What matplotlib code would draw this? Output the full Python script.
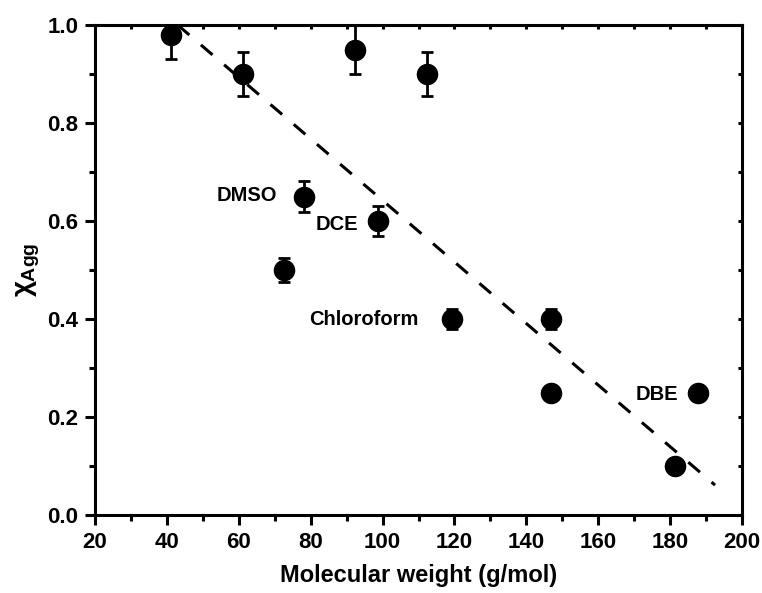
import numpy as np
import matplotlib.pyplot as plt
from matplotlib.ticker import MultipleLocator

plt.rcParams['font.family'] = ['Liberation Sans', 'DejaVu Sans']
plt.rcParams['font.weight'] = 'bold'
plt.rcParams['mathtext.fontset'] = 'custom'
plt.rcParams['mathtext.rm'] = 'Liberation Sans:bold'
plt.rcParams['mathtext.bf'] = 'Liberation Sans:bold'
plt.rcParams['mathtext.it'] = 'Liberation Sans:bold'

# solvent data: molecular weight vs aggregation fraction
mw = [41.1, 61.2, 92.3, 112.4, 78.2, 98.7, 72.6, 119.3, 146.9, 146.9, 187.8, 181.4]
chi = [0.98, 0.90, 0.95, 0.90, 0.65, 0.60, 0.50, 0.40, 0.40, 0.25, 0.25, 0.10]
err = [0.05, 0.045, 0.05, 0.045, 0.032, 0.03, 0.025, 0.02, 0.02, 0.01, 0.01, 0.01]

# linear trend line endpoints
fit_x = [43.0, 192.5]
fit_y = [1.0, 0.061]

# labelled solvents
lab_names = ['DMSO', 'DCE', 'Chloroform', 'DBE']
lab_x = [70.8, 93.3, 110.0, 182.2]
lab_y = [0.653, 0.592, 0.40, 0.245]

fig = plt.figure(figsize=(7.62, 5.93), dpi=100)
ax = fig.add_axes([0.1247, 0.1315, 0.8491, 0.8263])

ax.plot(fit_x, fit_y, color='black', lw=2.2, linestyle=(0, (5, 5)))
ax.errorbar(mw, chi, yerr=err, fmt='o', color='black', markersize=14.5,
            elinewidth=2.0, capsize=4.5, capthick=2.0)

for name, x, y in zip(lab_names, lab_x, lab_y):
    ax.text(x, y, name, fontsize=14.5, fontweight='bold', ha='right', va='center')

ax.set_xlim(20, 200)
ax.set_ylim(0, 1.0)
ax.xaxis.set_major_locator(MultipleLocator(20))
ax.xaxis.set_minor_locator(MultipleLocator(10))
ax.yaxis.set_major_locator(MultipleLocator(0.2))
ax.yaxis.set_minor_locator(MultipleLocator(0.1))
ax.yaxis.set_major_formatter(plt.FuncFormatter(lambda v, p: f'{v:.1f}'))

for s in ax.spines.values():
    s.set_linewidth(2.2)
ax.tick_params(which='major', direction='out', length=7, width=2.2, labelsize=16, pad=5)
ax.tick_params(which='minor', direction='out', length=4, width=2.2)
ax.tick_params(which='both', top=True, right=True)
for t in ax.xaxis.get_ticklines(minor=False)[1::2] + ax.xaxis.get_ticklines(minor=True)[1::2]:
    t.set_marker(3)  # top ticks inward
    t.set_markersize(3)
for t in ax.yaxis.get_ticklines(minor=False)[1::2] + ax.yaxis.get_ticklines(minor=True)[1::2]:
    t.set_marker(0)  # right ticks inward
    t.set_markersize(3)

ax.set_xlabel('Molecular weight (g/mol)', fontsize=17, fontweight='bold', labelpad=8)
ax.set_ylabel(r'$\chi_{Agg}$', fontsize=20, labelpad=4)

fig.savefig('out.png', dpi=100)
